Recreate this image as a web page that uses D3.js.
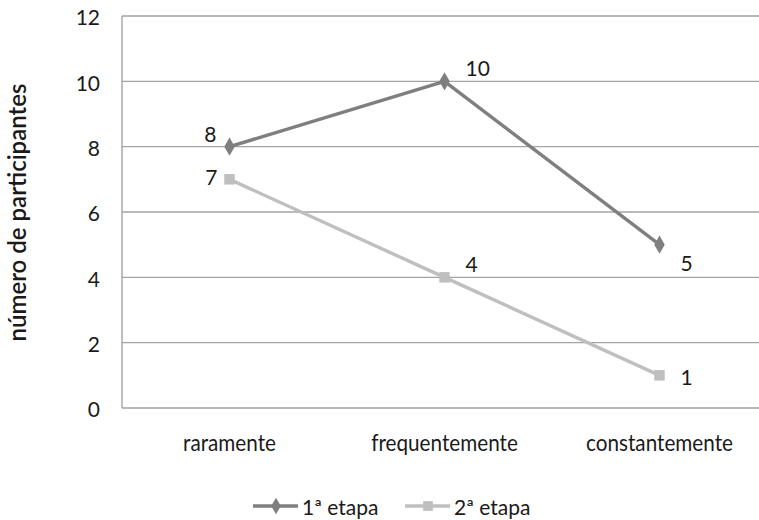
<!DOCTYPE html>
<html>
<head>
<meta charset="utf-8">
<script src="https://cdn.jsdelivr.net/npm/d3@7/dist/d3.min.js"></script>
<style>
  html, body { margin: 0; padding: 0; background: #fff; }
  svg text { font-family: Lato, "Open Sans", sans-serif; fill: #1a1a1a; }
</style>
</head>
<body>
<svg id="chart" width="759" height="520"></svg>
<script>
// Categories, series values and axis ticks
const categories = ["raramente", "frequentemente", "constantemente"];
const etapa1 = [8, 10, 5];
const etapa2 = [7, 4, 1];
const seriesNames = ["1ª etapa", "2ª etapa"];
const yTicks = [0, 2, 4, 6, 8, 10, 12];
const yTitle = "número de participantes";

// Where each value label sits relative to its point
const labelPlacement = [
  ["left-up", "right-up", "right-down"],
  ["left", "right-up", "right"]
];

const svg = d3.select("#chart");
const plot = { left: 122, top: 16, width: 645, height: 392 };

const x = d3.scaleBand().domain(categories).range([plot.left, plot.left + plot.width]);
const y = d3.scaleLinear().domain([0, 12]).range([plot.top + plot.height, plot.top]);

// gridlines
svg.append("g").selectAll("line").data(yTicks).join("line")
  .attr("x1", plot.left).attr("x2", plot.left + plot.width)
  .attr("y1", d => y(d)).attr("y2", d => y(d))
  .attr("stroke", "#a3a3a3").attr("stroke-width", 1.4);

// left axis line
svg.append("line")
  .attr("x1", plot.left).attr("x2", plot.left)
  .attr("y1", y(12)).attr("y2", y(0))
  .attr("stroke", "#a3a3a3").attr("stroke-width", 1.4);

// y tick labels
const yAxis = d3.axisLeft(y).tickValues(yTicks).tickSize(0).tickPadding(22);
const gy = svg.append("g").attr("transform", `translate(${plot.left},0)`).call(yAxis);
gy.select(".domain").remove();
gy.selectAll("text")
  .attr("dy", "0.42em")
  .style("font-size", "21px").style("font-family", "Lato, sans-serif").attr("fill", "#1a1a1a");

// x category labels (slightly condensed)
const xAxis = d3.axisBottom(x).tickSize(0).tickPadding(27);
const gx = svg.append("g").attr("transform", `translate(0,${y(0)})`).call(xAxis);
gx.select(".domain").remove();
gx.selectAll("text")
  .attr("transform", "scale(0.9,1)")
  .style("font-size", "23px").style("font-family", "Lato, sans-serif").attr("fill", "#1a1a1a");

// y title
svg.append("text")
  .attr("transform", `translate(26,${212.5}) rotate(-90)`)
  .attr("text-anchor", "middle")
  .style("font-size", "24px").style("font-weight", "600")
  .text(yTitle);

const colors = ["#7f7f7f", "#bfbfbf"];
const data = [etapa1, etapa2];
const cx = c => x(c) + x.bandwidth() / 2;

const line = d3.line().x((d, i) => cx(categories[i])).y(d => y(d));

data.forEach((vals, s) => {
  svg.append("path").datum(vals)
    .attr("d", line)
    .attr("fill", "none")
    .attr("stroke", colors[s]).attr("stroke-width", 3.4)
    .attr("stroke-linejoin", "round");

  const sym = d3.symbol().type(s === 0 ? d3.symbolDiamond : d3.symbolSquare).size(s === 0 ? 95 : 110);
  svg.append("g").selectAll("path").data(vals).join("path")
    .attr("transform", (d, i) => `translate(${cx(categories[i])},${y(d)})`)
    .attr("d", sym)
    .attr("fill", colors[s]);

  svg.append("g").selectAll("text").data(vals).join("text")
    .each(function (d, i) {
      const pos = labelPlacement[s][i];
      const px = cx(categories[i]), py = y(d);
      const t = d3.select(this).text(d).style("font-size", "21px");
      if (pos === "left-up") t.attr("x", px - 13).attr("y", py - 5).attr("text-anchor", "end");
      else if (pos === "left") t.attr("x", px - 12).attr("y", py + 6).attr("text-anchor", "end");
      else if (pos === "right-up") t.attr("x", px + 21).attr("y", py - 5).attr("text-anchor", "start");
      else if (pos === "right-down") t.attr("x", px + 21).attr("y", py + 26).attr("text-anchor", "start");
      else t.attr("x", px + 21).attr("y", py + 10).attr("text-anchor", "start");
    });
});

// legend
const legendItems = [{ x: 253 }, { x: 405 }];
const lg = svg.append("g");
seriesNames.forEach((name, s) => {
  const lx = legendItems[s].x, ly = 506;
  lg.append("line").attr("x1", lx).attr("x2", lx + 45).attr("y1", ly).attr("y2", ly)
    .attr("stroke", colors[s]).attr("stroke-width", 3.4);
  lg.append("path")
    .attr("transform", `translate(${lx + 23},${ly})`)
    .attr("d", d3.symbol().type(s === 0 ? d3.symbolDiamond : d3.symbolSquare).size(s === 0 ? 80 : 95))
    .attr("fill", colors[s]);
  lg.append("text").attr("x", lx + 49).attr("y", ly + 9)
    .style("font-size", "21px").text(name);
});
</script>
</body>
</html>
